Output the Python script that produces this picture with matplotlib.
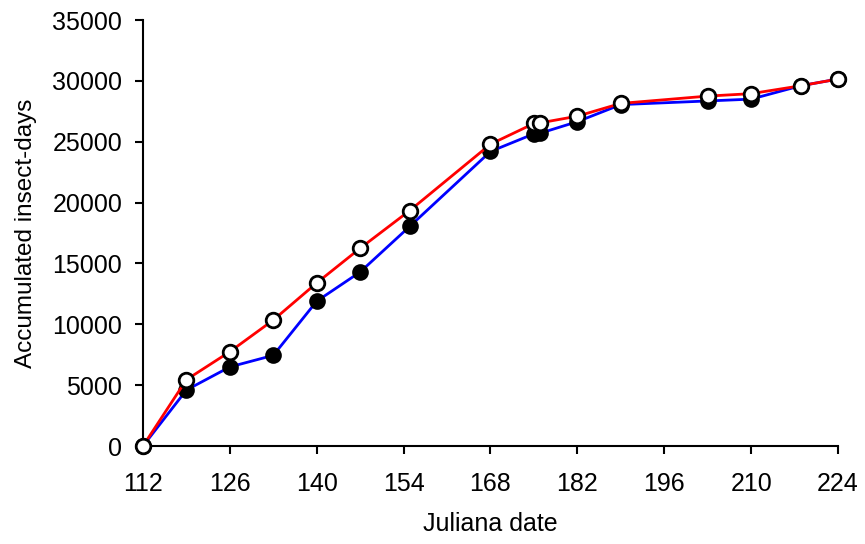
import matplotlib
matplotlib.use("Agg")
import matplotlib.pyplot as plt
import numpy as np

plt.rcParams['font.family'] = ['Liberation Sans', 'DejaVu Sans']

# dias julianos y grados acumulados
dias = [112, 119, 126, 133, 140, 147, 155, 168, 175, 176, 182, 189, 203, 210, 218, 224]
serie_llena = [0, 4600, 6500, 7450, 11900, 14300, 18050, 24200, 25650, 25700, 26650, 28050, 28350, 28500, 29600, 30150]
serie_vacia = [0, 5450, 7750, 10350, 13400, 16250, 19350, 24800, 26500, 26550, 27100, 28150, 28750, 28950, 29600, 30150]
xticks = np.arange(112, 225, 14)
yticks = np.arange(0, 35001, 5000)

fig = plt.figure(figsize=(8.65, 5.44), dpi=100)
ax = fig.add_axes([0.1653, 0.1801, 0.8035, 0.7831])

ax.plot(dias, serie_llena, color="blue", lw=2, marker="o", ms=10.5,
        mfc="black", mec="black", mew=1.5, clip_on=False, zorder=3)
ax.plot(dias, serie_vacia, color="red", lw=2, marker="o", ms=10.5,
        mfc="white", mec="black", mew=2, clip_on=False, zorder=4)

ax.set_xlim(112, 224)
ax.set_ylim(0, 35000)
ax.set_xticks(xticks)
ax.set_yticks(yticks)
ax.spines['top'].set_visible(False)
ax.spines['right'].set_visible(False)
for s in ['left', 'bottom']:
    ax.spines[s].set_linewidth(1.5)
ax.tick_params(direction='out', length=6, width=1.5, labelsize=18)
ax.tick_params(axis='x', pad=13)
ax.tick_params(axis='y', pad=9)
ax.set_xlabel("Juliana date", fontsize=18, labelpad=11)
ax.set_ylabel("Accumulated insect-days", fontsize=17.5, labelpad=11)

plt.savefig("out.png", dpi=100)
